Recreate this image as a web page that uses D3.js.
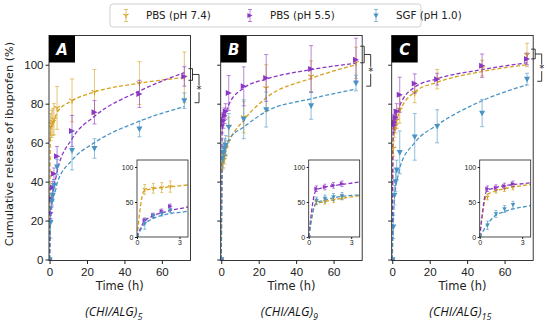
<!DOCTYPE html>
<html>
<head>
<meta charset="utf-8">
<script src="https://d3js.org/d3.v7.min.js"></script>
<style>
  body { margin: 0; background: #fff; }
  svg { font-family: "DejaVu Sans", sans-serif; }
  .axis text { fill: #222; }
  .axis line { stroke: #222; }
  .axis path { display: none; }
</style>
</head>
<body>
<svg width="550" height="325"></svg>
<script>
// sampling times (h) and fitted-curve times
var times = [0, 0.55, 1.15, 1.75, 2.35, 4, 12, 24, 48, 72];
var fitTimes = [0, 0.5, 1, 2, 3.6, 4, 12, 24, 48, 72];
var seriesNames = ["PBS (pH 7.4)", "PBS (pH 5.5)", "SGF (pH 1.0)"];
var colors = ["#d6a11e", "#8c36c6", "#4a94c5"];
var panelNames = ["A", "B", "C"];
var layerCounts = ["5", "9", "15"];
var mainXTicks = [0, 20, 40, 60];
var mainYTicks = [0, 20, 40, 60, 80, 100];
var insetXTicks = [0, 3];
var insetYTicks = [0, 50, 100];

// mean release (%) per panel: [pH 7.4, pH 5.5, pH 1.0]
var meanA = [
  [0, 68, 69.6, 70.6, 72, 77.8, 81.7, 86, 90.6, 93.5],
  [0, 24, 31, 37, 44, 53, 66, 75.6, 85, 94],
  [0, 19, 30, 33, 38, 47.5, 56, 57, 67, 81.5]
];
var meanB = [
  [0, 50, 51, 53, 57, 68, 73, 88, 94, 101],
  [0, 69, 71.4, 73.8, 76, 85.5, 88.9, 93.2, 97.8, 102.6],
  [0, 52, 55, 57, 58.6, 68, 72, 77, 79, 90.6]
];
var meanC = [
  [0, 57, 66.7, 69, 71.4, 77, 85.5, 92.6, 98.3, 105],
  [0, 69, 70.5, 72.9, 76, 84.6, 90.3, 92.6, 99.5, 103],
  [0, 16.7, 33, 40, 46, 55, 63, 68.4, 75.2, 92.6]
];
// standard deviations
var errA = [
  [0, 7, 7, 7, 8, 11, 11, 11.5, 11, 13],
  [0, 3, 3, 3, 3, 5, 8, 6, 7, 5],
  [0, 8, 3, 3, 3, 4, 10, 5, 4, 4]
];
var errB = [
  [0, 4, 4, 4, 4, 5, 8, 12, 8, 8],
  [0, 4, 4, 4, 4, 9, 10, 12, 12, 11],
  [0, 5, 5, 5, 5, 7, 10, 9, 7, 4]
];
var errC = [
  [0, 4, 4, 4, 4, 7, 5, 5, 4, 6],
  [0, 4, 4, 4, 4, 9, 5, 3, 6, 3],
  [0, 6, 5, 5, 5, 11, 12, 8.5, 7, 3]
];
// fitted release curves (dashed)
var fitA = [
  [0, 66, 68.5, 71, 74.4, 75.5, 81.5, 86, 90.5, 93.5],
  [0, 22, 29, 36, 43, 45, 62, 73.5, 86.5, 96],
  [0, 18, 25, 32, 37, 39, 51, 60, 71, 78.5]
];
var fitB = [
  [0, 47, 50, 54, 59, 60, 71.5, 83, 93, 100],
  [0, 66, 70.5, 74, 78.5, 79.5, 88, 92.6, 97.5, 100.8],
  [0, 48, 52, 57, 60.5, 61.5, 68, 76, 82.5, 87.5]
];
var fitC = [
  [0, 60, 65, 70, 75, 76, 86, 91, 96.5, 100],
  [0, 66, 70, 74, 77.5, 79, 88.5, 92.8, 97.5, 101],
  [0, 17, 29, 38, 45, 47, 60, 69, 81.5, 89.7]
];
// significance brackets: [top high, top low, bottom]
var brackets = [[98, 92, 80.5], [109.5, 101, 89], [108, 103, 91.5]];

var means = [meanA, meanB, meanC];
var errs = [errA, errB, errC];
var fits = [fitA, fitB, fitC];

var svg = d3.select("svg");
var panelLeft = [49, 220.7, 391.7];
var panelW = 141.5, plotTop = 35.5, plotBottom = 260.5;

function marker(g, k, cx, cy, s, color) {
  var p;
  if (k === 0) {
    var h = s * 1.1;
    p = "M0,0V" + h + "M0,0L" + (-h * 0.87) + "," + (-h * 0.5) + "M0,0L" + (h * 0.87) + "," + (-h * 0.5);
    g.append("path").attr("d", p).attr("transform", "translate(" + cx + "," + cy + ")")
      .attr("stroke", color).attr("stroke-width", 1.1).attr("fill", "none");
  } else if (k === 1) {
    p = "M" + (-s) + "," + (-s) + "L" + s + ",0L" + (-s) + "," + s + "Z";
    g.append("path").attr("d", p).attr("transform", "translate(" + cx + "," + cy + ")").attr("fill", color);
  } else {
    p = "M" + (-s) + "," + (-s * 0.8) + "L" + s + "," + (-s * 0.8) + "L0," + (s * 1.1) + "Z";
    g.append("path").attr("d", p).attr("transform", "translate(" + cx + "," + cy + ")").attr("fill", color);
  }
}

function errorBar(g, cx, y1, y2, cap, color) {
  g.append("line").attr("x1", cx).attr("x2", cx).attr("y1", y1).attr("y2", y2)
    .attr("stroke", color).attr("stroke-width", 0.8).attr("opacity", 0.75);
  [y1, y2].forEach(function (yy) {
    g.append("line").attr("x1", cx - cap).attr("x2", cx + cap).attr("y1", yy).attr("y2", yy)
      .attr("stroke", color).attr("stroke-width", 0.8).attr("opacity", 0.75);
  });
}

function drawData(g, x, y, p, ms, cap) {
  for (var k = 0; k < 3; k++) {
    var fitPts = fitTimes.map(function (t, j) { return [t, fits[p][k][j]]; });
    g.append("path")
      .datum(fitPts)
      .attr("d", d3.line().x(function (d) { return x(d[0]); }).y(function (d) { return y(d[1]); })
        .curve(d3.curveMonotoneX))
      .attr("fill", "none").attr("stroke", colors[k]).attr("stroke-width", 1.3)
      .attr("stroke-dasharray", "4,2.2");
  }
  for (var k2 = 0; k2 < 3; k2++) {
    times.forEach(function (t, j) {
      var m = means[p][k2][j], e = errs[p][k2][j];
      if (e > 0) errorBar(g, x(t), y(m - e), y(m + e), cap, colors[k2]);
      marker(g, k2, x(t), y(m), ms, colors[k2]);
    });
  }
}

panelNames.forEach(function (name, p) {
  var left = panelLeft[p], right = left + panelW;
  var x = d3.scaleLinear().domain([-0.3, 75.3]).range([left, right]);
  var y = d3.scaleLinear().domain([-0.5, 115]).range([plotBottom, plotTop]);

  svg.append("clipPath").attr("id", "clip" + p).append("rect")
    .attr("x", left).attr("y", plotTop).attr("width", panelW).attr("height", plotBottom - plotTop);

  var g = svg.append("g").attr("clip-path", "url(#clip" + p + ")");
  drawData(g, x, y, p, 3, 2);

  svg.append("rect").attr("x", left).attr("y", plotTop).attr("width", panelW).attr("height", plotBottom - plotTop)
    .attr("fill", "none").attr("stroke", "#222").attr("stroke-width", 0.9);

  svg.append("g").attr("class", "axis").attr("transform", "translate(0," + plotBottom + ")")
    .call(d3.axisBottom(x).tickValues(mainXTicks).tickSize(3.5).tickPadding(4))
    .selectAll("text").style("font-size", "11.5px");
  svg.append("g").attr("class", "axis").attr("transform", "translate(" + left + ",0)")
    .call(d3.axisLeft(y).tickValues(mainYTicks).tickSize(3.5).tickPadding(2)
      .tickFormat(p === 0 ? d3.format("d") : function () { return ""; }))
    .selectAll("text").style("font-size", "11.5px");

  // inset
  var il = left + 88, iw = 51, it = 160, ib = 237;
  var ix = d3.scaleLinear().domain([0, 3.6]).range([il, il + iw]);
  var iy = d3.scaleLinear().domain([0, 110]).range([ib, it]);
  svg.append("rect").attr("x", il).attr("y", it).attr("width", iw).attr("height", ib - it).attr("fill", "#fff");
  svg.append("clipPath").attr("id", "iclip" + p).append("rect")
    .attr("x", il).attr("y", it).attr("width", iw).attr("height", ib - it);
  var ig = svg.append("g").attr("clip-path", "url(#iclip" + p + ")");
  drawData(ig, ix, iy, p, 2.2, 1.5);
  svg.append("rect").attr("x", il).attr("y", it).attr("width", iw).attr("height", ib - it)
    .attr("fill", "none").attr("stroke", "#222").attr("stroke-width", 0.8);
  svg.append("g").attr("class", "axis").attr("transform", "translate(0," + ib + ")")
    .call(d3.axisBottom(ix).tickValues(insetXTicks).tickSize(2).tickPadding(1.5).tickFormat(d3.format("d")))
    .selectAll("text").style("font-size", "7px");
  svg.append("g").attr("class", "axis").attr("transform", "translate(" + il + ",0)")
    .call(d3.axisLeft(iy).tickValues(insetYTicks).tickSize(2).tickPadding(1.5).tickFormat(d3.format("d")))
    .selectAll("text").style("font-size", "7px");

  // panel label
  svg.append("rect").attr("x", left).attr("y", plotTop).attr("width", 26).attr("height", 27).attr("fill", "#000");
  svg.append("text").attr("x", left + 13).attr("y", plotTop + 19.5).attr("text-anchor", "middle")
    .attr("fill", "#fff").style("font-size", "15px").style("font-weight", "bold").style("font-style", "italic")
    .text(name);

  // significance bracket
  var b = brackets[p];
  var yh = y(b[0]), yl = y(b[1]), mid = (yh + yl) / 2, yb = y(b[2]);
  var bx = right + 8.5;
  svg.append("path")
    .attr("d", "M" + (right - 2) + "," + yh + "H" + (right + 2) + "V" + yl + "H" + (right - 2) +
      "M" + (right + 2) + "," + mid + "H" + bx + "V" + yb + "H" + (right + 4))
    .attr("fill", "none").attr("stroke", "#222").attr("stroke-width", 0.9);
  var sy = (mid + yb) / 2;
  svg.append("rect").attr("x", bx - 3).attr("y", sy - 3.5).attr("width", 6).attr("height", 7).attr("fill", "#fff");
  svg.append("text").attr("x", bx).attr("y", sy + 4.5).attr("text-anchor", "middle")
    .style("font-size", "10px").attr("fill", "#222").text("*");

  // axis title and subtitle
  svg.append("text").attr("x", (left + right) / 2).attr("y", 290).attr("text-anchor", "middle")
    .style("font-size", "11.5px").attr("fill", "#222").text("Time (h)");
  var sub = svg.append("text").attr("x", (left + right) / 2 - 4 + (p === 0 ? -2 : 2)).attr("y", 316)
    .attr("text-anchor", "middle").style("font-family", "'Open Sans', sans-serif")
    .style("font-size", "12.5px").style("font-style", "italic").attr("fill", "#111");
  sub.append("tspan").text("(CHI/ALG)");
  sub.append("tspan").attr("dy", 3.5).style("font-size", "9px").text(layerCounts[p]);
});

// y axis title
svg.append("text").attr("transform", "translate(13,144) rotate(-90)").attr("text-anchor", "middle")
  .style("font-size", "11.3px").attr("fill", "#222").text("Cumulative release of ibuprofen (%)");

// legend
var legendMarkX = [126, 250, 376];
var legend = svg.append("g");
legend.append("rect").attr("x", 110).attr("y", 4).attr("width", 311).attr("height", 23).attr("rx", 3)
  .attr("fill", "#fff").attr("stroke", "#ccc").attr("stroke-width", 0.9);
seriesNames.forEach(function (s, k) {
  var mx = legendMarkX[k];
  errorBar(legend, mx, 9.5, 21.5, 2, colors[k]);
  marker(legend, k, mx, 15.5, 2.6, colors[k]);
  legend.append("text").attr("x", mx + 20).attr("y", 15.5).attr("dy", "0.35em")
    .style("font-size", "10.3px").attr("fill", "#222").text(s);
});
</script>
</body>
</html>
